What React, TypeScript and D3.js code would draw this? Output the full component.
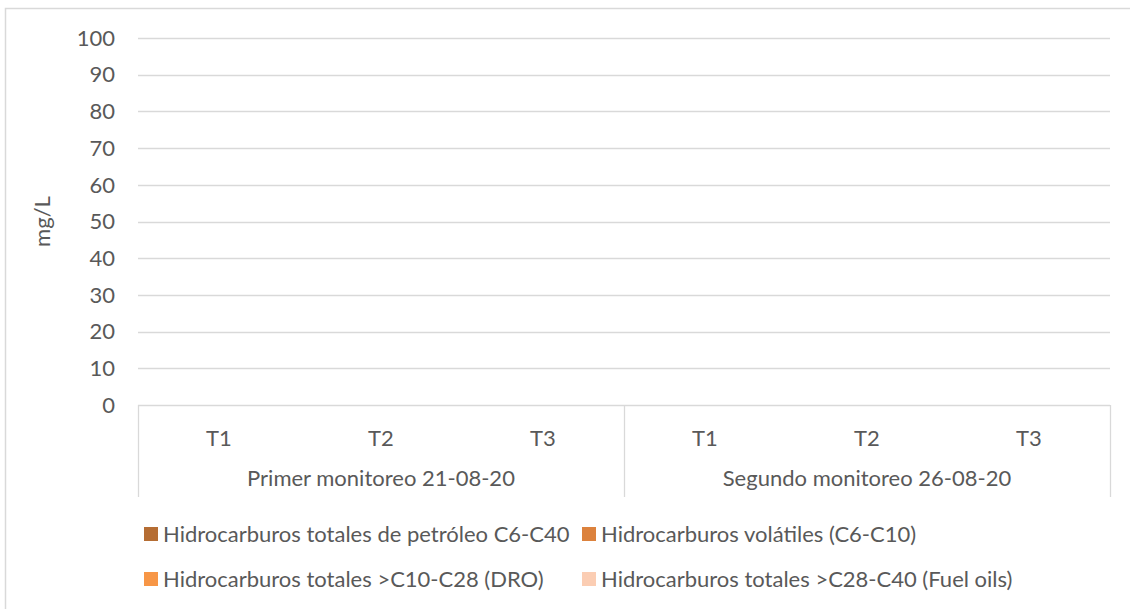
import React, { useEffect, useRef } from 'react';
import * as d3 from 'd3';

const groups = ['Primer monitoreo 21-08-20', 'Segundo monitoreo 26-08-20'];
const samples = ['T1', 'T2', 'T3'];
const seriesNames = [
  'Hidrocarburos totales de petróleo C6-C40',
  'Hidrocarburos volátiles (C6-C10)',
  'Hidrocarburos totales >C10-C28 (DRO)',
  'Hidrocarburos totales >C28-C40 (Fuel oils)',
];
const seriesColors = ['#b56d33', '#dc823d', '#f79646', '#fbcdb3'];
// values per series, ordered group1 T1..T3, group2 T1..T3 (all below detection / zero)
const tphValues = [0, 0, 0, 0, 0, 0];
const volatileValues = [0, 0, 0, 0, 0, 0];
const droValues = [0, 0, 0, 0, 0, 0];
const fuelValues = [0, 0, 0, 0, 0, 0];
const yTicks = [0, 10, 20, 30, 40, 50, 60, 70, 80, 90, 100];

const FONT = 'Lato, sans-serif';
const FS = 22;
const TEXT = '#595959';
const GRID = '#d9d9d9';

export default function App() {
  const svgRef = useRef<SVGSVGElement>(null);

  useEffect(() => {
    document.body.style.margin = '0';
    if (!svgRef.current) return;
    const width = 1130;
    const height = 609;
    const svg = d3.select(svgRef.current);
    svg.selectAll('*').remove();

    const left = 138, right = 1110, top = 38, bottom = 405;

    // chart area border
    svg.append('rect')
      .attr('x', 5.5).attr('y', 8.5)
      .attr('width', width).attr('height', height)
      .attr('fill', 'white').attr('stroke', GRID).attr('stroke-width', 1.5);

    const y = d3.scaleLinear().domain([0, 100]).range([bottom, top]);
    const cats = groups.flatMap(g => samples.map(s => `${g}|${s}`));
    const x = d3.scaleBand().domain(cats).range([left, right]);
    const xs = d3.scaleBand().domain(seriesNames.map((_, i) => String(i)))
      .range([0, x.bandwidth()]).paddingOuter(0.6).paddingInner(0);

    // gridlines
    svg.append('g').selectAll('line').data(yTicks).join('line')
      .attr('x1', left).attr('x2', right)
      .attr('y1', d => Math.round(y(d)) + 0.5).attr('y2', d => Math.round(y(d)) + 0.5)
      .attr('stroke', GRID).attr('stroke-width', 1.3);

    // y tick labels
    svg.append('g').selectAll('text').data(yTicks).join('text')
      .attr('x', 115).attr('y', d => y(d))
      .attr('dy', '0.35em').attr('text-anchor', 'end')
      .attr('font-family', FONT).attr('font-size', FS).attr('fill', TEXT)
      .text(d => d);

    // y axis title
    svg.append('text')
      .attr('transform', `translate(42,${(top + bottom) / 2}) rotate(-90)`)
      .attr('dy', '0.35em').attr('text-anchor', 'middle')
      .attr('font-family', FONT).attr('font-size', FS).attr('fill', TEXT)
      .text('mg/L');

    // bars (clustered per sample)
    const allValues = [tphValues, volatileValues, droValues, fuelValues];
    allValues.forEach((vals, si) => {
      svg.append('g').selectAll('rect').data(vals).join('rect')
        .attr('x', (_, i) => (x(cats[i]) || 0) + (xs(String(si)) || 0))
        .attr('width', xs.bandwidth())
        .attr('y', d => y(d))
        .attr('height', d => bottom - y(d))
        .attr('fill', seriesColors[si]);
    });

    // multi-level category axis
    const groupW = (right - left) / groups.length;
    const sepX = d3.range(groups.length + 1).map(i => left + i * groupW);
    svg.append('g').selectAll('line').data(sepX).join('line')
      .attr('x1', d => Math.round(d) + 0.5).attr('x2', d => Math.round(d) + 0.5)
      .attr('y1', bottom).attr('y2', 497)
      .attr('stroke', GRID).attr('stroke-width', 1.3);

    svg.append('g').selectAll('text').data(cats).join('text')
      .attr('x', d => (x(d) || 0) + x.bandwidth() / 2)
      .attr('y', 438).attr('dy', '0.35em').attr('text-anchor', 'middle')
      .attr('font-family', FONT).attr('font-size', FS).attr('fill', TEXT)
      .text(d => d.split('|')[1]);

    svg.append('g').selectAll('text').data(groups).join('text')
      .attr('x', (_, i) => left + (i + 0.5) * groupW)
      .attr('y', 478).attr('dy', '0.35em').attr('text-anchor', 'middle')
      .attr('font-family', FONT).attr('font-size', FS).attr('fill', TEXT)
      .text(d => d);

    // legend
    const legX = [144, 582];
    const legY = [534, 579];
    const leg = svg.append('g').selectAll('g').data(seriesNames).join('g')
      .attr('transform', (_, i) => `translate(${legX[i % 2]},${legY[Math.floor(i / 2)]})`);
    leg.append('rect')
      .attr('x', 0).attr('y', -7).attr('width', 14).attr('height', 14)
      .attr('fill', (_, i) => seriesColors[i]);
    leg.append('text')
      .attr('x', 19).attr('dy', '0.35em')
      .attr('font-family', FONT).attr('font-size', FS).attr('fill', TEXT)
      .text(d => d);
  }, []);

  return <svg ref={svgRef} width={1130} height={609} style={{ display: 'block' }} />;
}
